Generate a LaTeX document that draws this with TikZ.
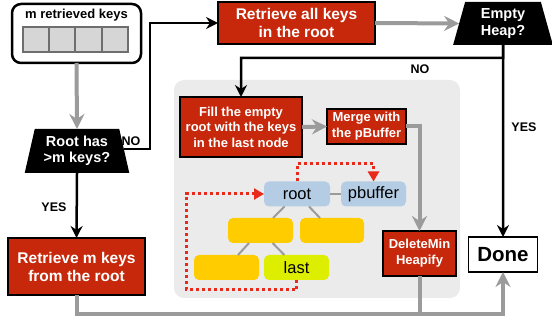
\documentclass[tikz,border=0pt]{standalone}
\usepackage{fontspec}
\setmainfont{Liberation Sans}
\usetikzlibrary{arrows.meta,shapes.geometric}
\definecolor{boxred}{HTML}{C7280B}
\definecolor{arrgray}{HTML}{9B9B9B}
\definecolor{bggray}{HTML}{EBEBEB}
\definecolor{cellgray}{HTML}{D6D6D6}
\definecolor{celledge}{HTML}{6E6E6E}
\definecolor{nodeblue}{HTML}{B4CDE4}
\definecolor{nodeyellow}{HTML}{FFCC00}
\definecolor{nodelime}{HTML}{DDEE00}
\definecolor{dotred}{HTML}{E8291C}
\tikzset{
  redbox/.style={draw=black, line width=1.3pt, fill=boxred, text=white, align=center, inner sep=0pt, outer sep=0pt, font=\bfseries},
  decision/.style={trapezium, trapezium stretches=true, fill=black, text=white, align=center, inner sep=0pt, outer sep=0pt, font=\bfseries},
  treenode/.style={rounded corners=5pt, inner sep=0pt, outer sep=0pt, minimum height=25pt, font=\fontsize{16.5}{18}\selectfont},
  cell/.style={draw=celledge, line width=2pt, fill=cellgray, minimum width=26.25pt, minimum height=25pt, inner sep=0pt, outer sep=0pt},
  blackarrow/.style={draw=black, line width=2.5pt, -{Stealth[length=12pt, width=12pt, inset=4pt]}},
  blackline/.style={draw=black, line width=2.5pt},
  grayarrow/.style={draw=arrgray, line width=4pt, -{Stealth[length=15pt, width=15pt, inset=5pt]}},
  grayline/.style={draw=arrgray, line width=4pt},
  treeedge/.style={draw=arrgray, line width=2pt},
  dotarrow/.style={draw=dotred, line width=3pt, dash pattern=on 3pt off 3pt, -{Triangle[length=10pt, width=11pt]}},
  branchlabel/.style={font=\fontsize{12.5}{14}\selectfont\bfseries, inner sep=0pt}
}
\begin{document}
\begin{tikzpicture}[x=1pt, y=-1pt]
\useasboundingbox (0,0) rectangle (552,320);

% gray panel
\fill[bggray, rounded corners=10pt] (174,80) rectangle (460,298);

% m retrieved keys
\node[draw=black, line width=2.5pt, rounded corners=9pt, fill=white, minimum width=129pt, minimum height=59pt, inner sep=0pt, outer sep=0pt] (keys) at (76.5,33.5) {};
\node[font=\fontsize{13}{15}\selectfont\bfseries, inner sep=0pt] (keystitle) at (76.5,15) {m retrieved keys};
\node[cell] (c1) at (36.1,39.5) {};
\node[cell] (c2) at (62.4,39.5) {};
\node[cell] (c3) at (88.6,39.5) {};
\node[cell] (c4) at (114.9,39.5) {};

% decisions
\node[decision, minimum width=105pt, minimum height=44pt, trapezium angle=75, font=\fontsize{14.5}{16}\selectfont\bfseries] (rootq) at (77,151) {Root has\\>m keys?};
\node[decision, minimum width=100pt, minimum height=43pt, trapezium angle=77, font=\fontsize{14.5}{17.5}\selectfont\bfseries] (emptyq) at (503,23.5) {Empty\\Heap?};

% red boxes
\node[redbox, minimum width=137pt, minimum height=57pt, font=\fontsize{15.5}{18}\selectfont\bfseries] (retm) at (76.5,266.5) {Retrieve m keys\\from the root};
\node[redbox, minimum width=157pt, minimum height=42pt, font=\fontsize{15.5}{18}\selectfont\bfseries] (retall) at (296.5,23) {Retrieve all keys\\in the root};
\node[redbox, minimum width=122pt, minimum height=60pt, font=\fontsize{13}{15.5}\selectfont\bfseries] (fill) at (241,127) {Fill the empty\\root with the keys\\in the last node};
\node[redbox, minimum width=79pt, minimum height=35pt, font=\fontsize{13}{16}\selectfont\bfseries] (merge) at (366.5,126.5) {Merge with\\the pBuffer};
\node[redbox, minimum width=73pt, minimum height=45pt, font=\fontsize{13}{16}\selectfont\bfseries] (delmin) at (419.5,253.5) {DeleteMin\\Heapify};

% done
\node[draw=black, line width=1.5pt, fill=white, minimum width=69pt, minimum height=35pt, inner sep=0pt, outer sep=0pt, font=\fontsize{20.5}{22}\selectfont\bfseries] (done) at (503,254.5) {Done};

% tree
\node[treenode, minimum width=66pt, fill=nodeblue] (troot) at (297,194) {root};
\node[treenode, minimum width=65pt, fill=nodeblue] (tbuf) at (373.5,194) {pbuffer};
\node[treenode, minimum width=65pt, fill=nodeyellow] (ty1) at (260.5,230.5) {};
\node[treenode, minimum width=64pt, fill=nodeyellow] (ty2) at (332,230.5) {};
\node[treenode, minimum width=65pt, fill=nodeyellow] (ty3) at (226.5,267.5) {};
\node[treenode, minimum width=65pt, fill=nodelime] (tlast) at (296.5,267.5) {last};
\draw[treeedge] (troot) -- (tbuf);
\draw[treeedge] (troot) -- (ty1);
\draw[treeedge] (troot) -- (ty2);
\draw[treeedge] (ty1) -- (ty3);
\draw[treeedge] (ty1) -- (tlast);

% dotted red arrows
\coordinate (d1) at (296.5,290);
\coordinate (d2) at (186,290);
\coordinate (d3) at (186,194);
\draw[dotarrow] (tlast.south) -- (d1) -- (d2) -- (d3) -- (troot.west);
\coordinate (d4) at (297,164);
\coordinate (d5) at (373.5,164);
\draw[dotarrow] (troot.north) -- (d4) -- (d5) -- (tbuf.north);

% connectors
\draw[grayarrow] (keys.south) -- (rootq.north);
\coordinate (nobend) at (150,149);
\coordinate (notop) at (150,23);
\draw[blackarrow] (rootq.east |- nobend) -- (nobend) -- (notop) -- (retall.west);
\node[branchlabel] (nolabel1) at (131,141) {NO};
\draw[blackarrow] (rootq.south) -- (retm.north);
\node[branchlabel] (yeslabel1) at (54,207) {YES};
\draw[grayarrow] (retall.east) -- (emptyq.west);
\coordinate (nojoin) at (503,58);
\draw[blackarrow] (emptyq.south) -- (nojoin) -| (fill.north);
\node[branchlabel] (nolabel2) at (420,69) {NO};
\draw[blackarrow] (emptyq.south) -- (done.north);
\node[branchlabel] (yeslabel2) at (524,127) {YES};
\draw[grayarrow] (fill.east) -- (merge.west);
\draw[grayarrow] (merge.east) -| (delmin.north);
\coordinate (botl) at (76.5,314);
\coordinate (botr) at (503,314);
\coordinate (botm) at (419.5,314);
\draw[grayline] (delmin.south) -- (botm);
\draw[grayarrow] (retm.south) -- (botl) -- (botr) -- (done.south);
\end{tikzpicture}
\end{document}
